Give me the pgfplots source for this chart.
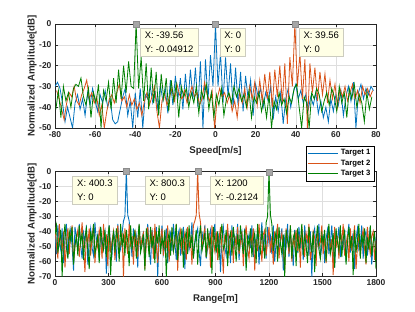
\documentclass[border=0pt]{standalone}
\usepackage{pgfplots}
\pgfplotsset{compat=1.18}
\usepackage{pgfplotstable}
\usepackage{fontspec}
\setmainfont{Liberation Sans}
\definecolor{c1}{rgb}{0,0.447,0.741}
\definecolor{c2}{rgb}{0.85,0.325,0.098}
\definecolor{c3}{rgb}{0,0.5,0}
\definecolor{axc}{rgb}{0.15,0.15,0.15}
\definecolor{gridc}{rgb}{0.87,0.87,0.87}
\definecolor{tipfill}{rgb}{1,1,0.9}
\definecolor{tipedge}{rgb}{0.8,0.8,0.75}

\pgfplotstableread[row sep=\\]{y\\
-30\\ -28\\ -31\\ -38\\ -47\\ -40\\ -45\\ -50\\ -38\\ -34\\
-41\\ -36\\ -44\\ -33\\ -39\\ -31\\ -37\\ -42\\ -34\\ -38\\
-32\\ -40\\ -36\\ -46\\ -48\\ -47\\ -41\\ -35\\ -31\\ -44\\
-37\\ -50\\ -33\\ -45\\ -31\\ -50\\ -34\\ -36\\ -30\\ -38\\
-33\\ -41\\ -29\\ -37\\ -31\\ -43\\ -27\\ -39\\ -25\\ -36\\
-26\\ -41\\ -24\\ -38\\ -22\\ -36\\ -21\\ -40\\ -18\\ -50\\
-17\\ -37\\ -15\\ -30\\ 0\\ -30\\ -14\\ -38\\ -16\\ -35\\
-19\\ -40\\ -21\\ -39\\ -23\\ -42\\ -25\\ -36\\ -27\\ -44\\
-29\\ -35\\ -31\\ -40\\ -33\\ -37\\ -30\\ -46\\ -35\\ -42\\
-33\\ -48\\ -36\\ -31\\ -40\\ -33\\ -29\\ -36\\ -32\\ -38\\
-34\\ -41\\ -35\\ -39\\ -33\\ -43\\ -37\\ -45\\ -40\\ -47\\
-36\\ -42\\ -34\\ -39\\ -32\\ -44\\ -35\\ -30\\ -37\\ -28\\
-50\\ -33\\ -29\\ -36\\ -31\\ -34\\ -30\\ -32\\
}\topA

\pgfplotstableread[row sep=\\]{y\\
-32\\ -36\\ -41\\ -46\\ -38\\ -33\\ -35\\ -30\\ -37\\ -39\\
-34\\ -31\\ -27\\ -36\\ -33\\ -38\\ -35\\ -44\\ -39\\ -50\\
-42\\ -36\\ -34\\ -38\\ -33\\ -29\\ -37\\ -35\\ -40\\ -34\\
-39\\ -36\\ -41\\ -38\\ -44\\ -37\\ -33\\ -39\\ -35\\ -30\\
-42\\ -50\\ -37\\ -33\\ -39\\ -35\\ -31\\ -37\\ -29\\ -34\\
-36\\ -32\\ -38\\ -34\\ -30\\ -35\\ -33\\ -39\\ -36\\ -28\\
-34\\ -37\\ -32\\ -50\\ -36\\ -31\\ -35\\ -33\\ -38\\ -34\\
-42\\ -37\\ -45\\ -33\\ -38\\ -31\\ -40\\ -30\\ -36\\ -28\\
-39\\ -27\\ -37\\ -24\\ -36\\ -23\\ -40\\ -22\\ -35\\ -20\\
-38\\ -19\\ -48\\ -16\\ -30\\ 0\\ -30\\ -14\\ -36\\ -17\\
-50\\ -19\\ -33\\ -21\\ -37\\ -23\\ -34\\ -24\\ -38\\ -27\\
-36\\ -29\\ -40\\ -31\\ -35\\ -30\\ -37\\ -33\\ -29\\ -36\\
-32\\ -38\\ -30\\ -34\\ -31\\ -35\\ -32\\
}\topB

\pgfplotstableread[row sep=\\]{y\\
-41\\ -32\\ -45\\ -30\\ -37\\ -33\\ -40\\ -31\\ -29\\ -30\\
-26\\ -35\\ -39\\ -31\\ -45\\ -33\\ -38\\ -29\\ -50\\ -32\\
-37\\ -28\\ -41\\ -26\\ -38\\ -22\\ -36\\ -20\\ -33\\ -18\\
-30\\ -31\\ -0.05\\ -31\\ -16\\ -37\\ -19\\ -41\\ -21\\ -38\\
-23\\ -44\\ -24\\ -36\\ -26\\ -42\\ -27\\ -37\\ -29\\ -45\\
-30\\ -35\\ -31\\ -40\\ -33\\ -38\\ -30\\ -43\\ -32\\ -36\\
-29\\ -41\\ -33\\ -45\\ -34\\ -39\\ -31\\ -44\\ -36\\ -33\\
-38\\ -30\\ -35\\ -31\\ -37\\ -34\\ -40\\ -32\\ -45\\ -35\\
-38\\ -33\\ -42\\ -36\\ -45\\ -34\\ -50\\ -37\\ -41\\ -33\\
-39\\ -36\\ -43\\ -35\\ -38\\ -31\\ -29\\ -40\\ -50\\ -35\\
-38\\ -50\\ -33\\ -36\\ -31\\ -34\\ -42\\ -37\\ -33\\ -39\\
-31\\ -35\\ -42\\ -30\\ -38\\ -33\\ -45\\ -31\\ -36\\ -29\\
-40\\ -34\\ -38\\ -47\\ -33\\ -41\\ -35\\
}\topC

\pgfplotstableread[row sep=\\]{y\\
-40\\ -55\\ -36\\ -48\\ -52\\ -38\\ -61\\ -43\\ -35\\ -57\\ -46\\ -39\\ -50\\ -66\\ -37\\ -44\\ -53\\ -35\\ -49\\ -58\\ -41\\ -47\\ -36\\ -62\\ -45\\
-38\\ -51\\ -56\\ -34\\ -47\\ -42\\ -59\\ -37\\ -53\\ -45\\ -40\\ -68\\ -44\\ -36\\ -50\\ -55\\ -39\\ -46\\ -60\\ -35\\ -48\\ -52\\ -41\\ -33\\ -30\\
0\\
-29\\ -33\\ -45\\ -57\\ -38\\ -49\\ -43\\ -64\\ -36\\ -52\\ -47\\ -40\\ -58\\ -44\\ -35\\ -51\\ -62\\ -39\\ -46\\ -54\\ -37\\ -70\\ -42\\ -48\\
-36\\ -55\\ -50\\ -38\\ -61\\ -45\\ -41\\ -53\\ -35\\ -47\\ -59\\ -43\\ -39\\ -56\\ -49\\ -37\\ -65\\ -44\\ -40\\ -52\\ -46\\ -34\\ -57\\ -48\\ -42\\
-38\\ -54\\ -63\\ -40\\ -47\\ -36\\ -58\\ -51\\ -43\\ -39\\ -60\\ -45\\ -35\\ -53\\ -49\\ -41\\ -67\\ -44\\ -37\\ -50\\ -56\\ -39\\ -46\\ -61\\ -36\\
-52\\ -43\\ -48\\ -35\\ -59\\ -45\\ -40\\ -55\\ -38\\ -64\\ -47\\ -42\\ -51\\ -36\\ -57\\ -44\\ -49\\ -39\\ -62\\ -46\\ -34\\ -53\\ -41\\ -58\\ -37\\
-48\\ -43\\ -55\\ -36\\ -60\\ -47\\ -40\\ -52\\ -45\\ -38\\ -66\\ -44\\ -50\\ -35\\ -57\\ -42\\ -49\\ -63\\ -39\\ -46\\ -54\\ -37\\ -51\\ -41\\ -59\\
-36\\ -48\\ -44\\ -56\\ -40\\ -70\\ -43\\ -38\\ -53\\ -47\\ -35\\ -58\\ -50\\ -42\\ -61\\ -45\\ -39\\ -55\\ -48\\ -36\\ -52\\ -64\\ -41\\ -46\\ -37\\
-57\\ -44\\ -50\\ -39\\ -60\\ -43\\ -35\\ -54\\ -47\\ -41\\ -65\\ -45\\ -38\\ -52\\ -49\\ -36\\ -58\\ -43\\ -40\\ -56\\ -46\\ -37\\ -62\\ -48\\ -42\\ -51\\
}\botA

\pgfplotstableread[row sep=\\]{y\\
-37\\ -49\\ -58\\ -35\\ -45\\ -53\\ -40\\ -64\\ -47\\ -38\\ -55\\ -42\\ -36\\ -60\\ -50\\ -44\\ -39\\ -57\\ -46\\ -34\\ -52\\ -67\\ -41\\ -48\\ -38\\
-56\\ -43\\ -36\\ -61\\ -47\\ -51\\ -39\\ -45\\ -58\\ -35\\ -49\\ -42\\ -63\\ -37\\ -54\\ -46\\ -40\\ -59\\ -44\\ -36\\ -52\\ -48\\ -41\\ -70\\ -38\\
-47\\ -55\\ -35\\ -50\\ -43\\ -62\\ -39\\ -46\\ -57\\ -36\\ -52\\ -44\\ -41\\ -65\\ -48\\ -37\\ -54\\ -45\\ -40\\ -58\\ -35\\ -49\\ -61\\ -42\\ -47\\
-38\\ -56\\ -44\\ -51\\ -36\\ -60\\ -46\\ -40\\ -53\\ -48\\ -35\\ -66\\ -43\\ -39\\ -55\\ -47\\ -41\\ -59\\ -37\\ -50\\ -45\\ -62\\ -36\\ -33\\ -29\\
0\\
-28\\ -34\\ -52\\ -44\\ -38\\ -57\\ -49\\ -41\\ -64\\ -36\\ -47\\ -53\\ -40\\ -59\\ -45\\ -37\\ -51\\ -68\\ -42\\ -48\\ -35\\ -56\\ -46\\ -39\\
-61\\ -43\\ -50\\ -37\\ -55\\ -47\\ -40\\ -63\\ -44\\ -36\\ -52\\ -58\\ -41\\ -49\\ -38\\ -66\\ -45\\ -53\\ -35\\ -48\\ -60\\ -42\\ -39\\ -56\\ -46\\
-37\\ -54\\ -43\\ -62\\ -40\\ -49\\ -35\\ -58\\ -47\\ -41\\ -51\\ -67\\ -38\\ -45\\ -55\\ -36\\ -60\\ -44\\ -50\\ -39\\ -53\\ -42\\ -64\\ -37\\ -48\\
-57\\ -41\\ -46\\ -35\\ -59\\ -52\\ -40\\ -44\\ -63\\ -38\\ -50\\ -47\\ -36\\ -55\\ -42\\ -61\\ -48\\ -39\\ -53\\ -45\\ -69\\ -37\\ -51\\ -43\\ -58\\
-40\\ -47\\ -35\\ -56\\ -49\\ -42\\ -60\\ -38\\ -53\\ -45\\ -36\\ -65\\ -50\\ -41\\ -57\\ -44\\ -39\\ -52\\ -62\\ -37\\ -48\\ -55\\ -43\\ -40\\ -59\\ -46\\
}\botB

\pgfplotstableread[row sep=\\]{y\\
-42\\ -36\\ -54\\ -47\\ -39\\ -70\\ -45\\ -35\\ -51\\ -58\\ -40\\ -46\\ -37\\ -62\\ -49\\ -43\\ -56\\ -36\\ -48\\ -41\\ -59\\ -44\\ -38\\ -53\\ -65\\
-40\\ -47\\ -35\\ -55\\ -50\\ -42\\ -61\\ -37\\ -46\\ -52\\ -39\\ -57\\ -44\\ -36\\ -69\\ -48\\ -41\\ -54\\ -38\\ -45\\ -60\\ -35\\ -50\\ -43\\ -56\\
-39\\ -47\\ -63\\ -36\\ -52\\ -44\\ -40\\ -58\\ -46\\ -35\\ -54\\ -49\\ -42\\ -66\\ -38\\ -45\\ -57\\ -37\\ -51\\ -43\\ -61\\ -40\\ -48\\ -36\\ -55\\
-44\\ -50\\ -39\\ -70\\ -46\\ -41\\ -56\\ -37\\ -53\\ -47\\ -35\\ -59\\ -43\\ -49\\ -38\\ -64\\ -45\\ -40\\ -55\\ -36\\ -51\\ -42\\ -58\\ -47\\ -39\\
-62\\ -44\\ -36\\ -53\\ -48\\ -41\\ -57\\ -38\\ -50\\ -45\\ -68\\ -37\\ -46\\ -54\\ -40\\ -59\\ -43\\ -35\\ -52\\ -49\\ -39\\ -63\\ -45\\ -41\\ -56\\
-37\\ -48\\ -60\\ -42\\ -53\\ -36\\ -47\\ -55\\ -39\\ -66\\ -44\\ -50\\ -38\\ -57\\ -46\\ -41\\ -61\\ -35\\ -49\\ -54\\ -40\\ -47\\ -58\\ -34\\ -30\\
-0.21\\
-29\\ -35\\ -53\\ -45\\ -40\\ -60\\ -37\\ -48\\ -55\\ -42\\ -70\\ -39\\ -46\\ -51\\ -36\\ -58\\ -44\\ -41\\ -63\\ -38\\ -52\\ -47\\ -35\\ -56\\
-43\\ -49\\ -61\\ -37\\ -45\\ -54\\ -40\\ -67\\ -46\\ -36\\ -52\\ -58\\ -42\\ -48\\ -39\\ -60\\ -44\\ -35\\ -55\\ -50\\ -41\\ -64\\ -38\\ -47\\ -53\\
-36\\ -57\\ -45\\ -40\\ -62\\ -48\\ -37\\ -51\\ -43\\ -69\\ -39\\ -54\\ -46\\ -35\\ -58\\ -42\\ -49\\ -38\\ -61\\ -44\\ -52\\ -36\\ -56\\ -47\\ -40\\ -65\\
}\botC

\pgfplotsset{
  myax/.style={
    scale only axis, width=321pt,
    axis line style={draw=axc, line width=0.5pt},
    grid=major, major grid style={draw=gridc, line width=0.5pt},
    tick align=inside, major tick length=3pt,
    tick style={draw=axc, line width=0.5pt},
    ticklabel style={font=\fontsize{8.5}{10}\selectfont\bfseries, text=axc},
    every axis x label/.style={at={(axis description cs:0.5,0)}, anchor=center, yshift=-23pt,
      font=\fontsize{9.7}{11}\selectfont\bfseries, text=axc},
    every axis y label/.style={at={(axis description cs:0,0.5)}, xshift=-23pt, rotate=90, anchor=center,
      font=\fontsize{9.7}{11}\selectfont\bfseries, text=axc},
  },
  tipmark/.style={only marks, mark=square*, mark size=3pt, draw=gray!90, fill=gray!70, forget plot},
}
\tikzset{
  tip/.style={draw=tipedge, fill=tipfill, line width=0.5pt, align=left,
    font=\fontsize{9.5}{14}\selectfont, inner xsep=4.5pt, inner ysep=3.5pt, text=black},
}

\begin{document}
\begin{tikzpicture}
\useasboundingbox (0,0) rectangle (415pt,312pt);
\begin{axis}[myax, at={(55pt,184pt)}, anchor=south west, height=104pt,
  xmin=-80, xmax=80, ymin=-50, ymax=0,
  xtick={-80,-60,-40,-20,0,20,40,60,80},
  xticklabels={-80,-60,-40,-20,0,20,40,60,80},
  ytick={-50,-40,-30,-20,-10,0},
  yticklabels={-50,-40,-30,-20,-10,0},
  xlabel={Speed[m/s]}, ylabel={Normalized Amplitude[dB]}]
\addplot[color=c1, line width=0.8pt] table[x expr=\coordindex*1.25-80, y=y] {\topA};
\addplot[color=c2, line width=0.8pt] table[x expr=\coordindex*1.25-79.19, y=y] {\topB};
\addplot[color=c3, line width=0.8pt] table[x expr=\coordindex*1.25-79.56, y=y] {\topC};
\addplot[tipmark] coordinates {(-39.56,-0.04912) (0,0) (39.56,0)};
\node[tip, anchor=north west, xshift=4pt, yshift=-4pt] at (axis cs:-39.56,0) {X: -39.56\\Y: -0.04912};
\node[tip, anchor=north west, xshift=4pt, yshift=-4pt] at (axis cs:0,0) {X: 0\\Y: 0};
\node[tip, anchor=north west, xshift=4pt, yshift=-4pt] at (axis cs:39.56,0) {X: 39.56\\Y: 0};
\end{axis}

\begin{axis}[myax, at={(55pt,35.5pt)}, anchor=south west, height=105pt,
  xmin=0, xmax=1800, ymin=-70, ymax=0,
  xtick={0,300,600,900,1200,1500,1800},
  xticklabels={0,300,600,900,1200,1500,1800},
  ytick={-70,-60,-50,-40,-30,-20,-10,0},
  yticklabels={-70,-60,-50,-40,-30,-20,-10,0},
  xlabel={Range[m]}, ylabel={Normalized Amplitude[dB]},
  legend style={at={(axis description cs:1,1)}, anchor=north east, xshift=-2pt, yshift=25.5pt,
    fill=white, font=\fontsize{7.7}{9}\selectfont\bfseries,
    inner sep=1.5pt, row sep=-0.5pt, cells={anchor=west}},
  legend image code/.code={\draw[mark repeat=2,mark phase=2,#1] plot coordinates {(0pt,0pt) (15pt,0pt) (30pt,0pt)};}]
\addplot[color=c1, line width=0.9pt] table[x expr=\coordindex*8, y=y] {\botA};
\addplot[color=c2, line width=0.9pt] table[x expr=\coordindex*8, y=y] {\botB};
\addplot[color=c3, line width=0.9pt] table[x expr=\coordindex*8, y=y] {\botC};
\legend{Target 1, Target 2, Target 3}
\addplot[tipmark] coordinates {(400.3,0) (800.3,0) (1200,-0.2124)};
\node[tip, anchor=north east, xshift=-9pt, yshift=-4.5pt] at (axis cs:400.3,0) {X: 400.3\\Y: 0};
\node[tip, anchor=north east, xshift=-8pt, yshift=-4.5pt] at (axis cs:800.3,0) {X: 800.3\\Y: 0};
\node[tip, anchor=north east, xshift=-6pt, yshift=-4.5pt] at (axis cs:1200,0) {X: 1200\\Y: -0.2124};
\end{axis}
\end{tikzpicture}
\end{document}
